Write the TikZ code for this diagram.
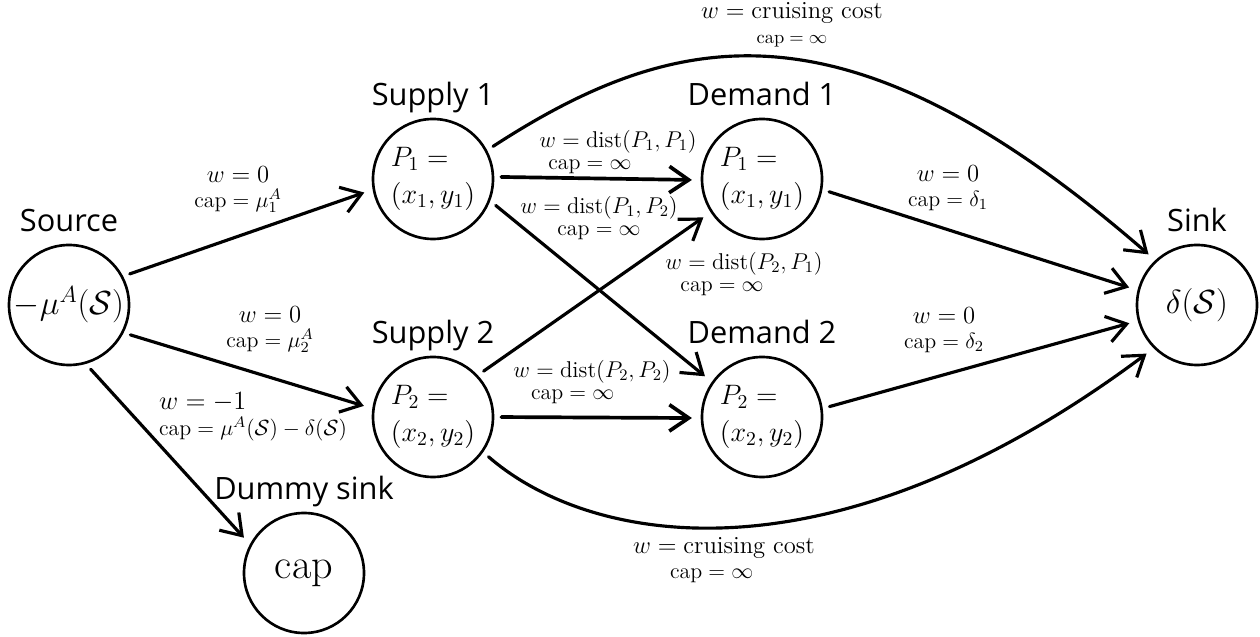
\RequirePackage{fix-cm}
\documentclass[tikz,border=0pt]{standalone}
\usepackage{amsmath,amssymb}
\usepackage{fontspec}
\usepackage{tikz}
\usetikzlibrary{arrows.meta}
\newfontfamily\lblfont{Open Sans}
\newcommand{\capsz}{\fontsize{12.5}{13}\selectfont}

\begin{document}
\begin{tikzpicture}[
  site/.style={draw, circle, line width=1.5pt, minimum size=2.4cm, inner sep=0pt, align=left, font=\fontsize{16}{21}\selectfont},
  term/.style={site, font=\fontsize{19}{21}\selectfont},
  ttl/.style={font=\lblfont\fontsize{17.5}{19}\selectfont, inner sep=0pt, text depth=0pt},
  arr/.style={-{Straight Barb[length=11pt,width=15pt]}, line width=1.8pt, line cap=round, line join=round, shorten <=4pt, shorten >=5pt},
  lbl/.style={font=\fontsize{14}{14}\selectfont, align=center, inner sep=0pt},
  dlbl/.style={lbl, font=\fontsize{13}{13}\selectfont},
  label distance=7pt]
  \useasboundingbox (0,0) rectangle (25.2,-12.74);

  \node[term, label={[ttl]above:Source}] (src) at (1.38,-6.1) {$-\mu^A(\mathcal{S})$};
  \node[site, label={[ttl]above:Supply 1}] (sup1) at (8.66,-3.58) {$P_1 =$\\$(x_1, y_1)$};
  \node[site, label={[ttl]above:Supply 2}] (sup2) at (8.66,-8.34) {$P_2 =$\\$(x_2, y_2)$};
  \node[site, label={[ttl]above:Demand 1}] (dem1) at (15.24,-3.58) {$P_1 =$\\$(x_1, y_1)$};
  \node[site, label={[ttl]above:Demand 2}] (dem2) at (15.24,-8.34) {$P_2 =$\\$(x_2, y_2)$};
  \node[term, label={[ttl]above:Sink}] (sink) at (23.94,-6.1) {$\delta(\mathcal{S})$};
  \node[term, font=\fontsize{24}{26}\selectfont, label={[ttl]above:Dummy sink}] (dummy) at (6.08,-11.46) {$\mathrm{cap}$};

  \draw[arr] (src.28) -- (sup1.190);
  \draw[arr] (src.-27) -- (sup2.172);
  \draw[arr] (src.-74) -- (dummy.152);
  \draw[arr, line width=2.1pt] (sup1.2) -- (dem1.181);
  \draw[arr] (sup1.-21) -- (dem2.145);
  \draw[arr] (sup2.43) -- (dem1.213);
  \draw[arr, line width=2.1pt] (sup2.0) -- (dem2.181);
  \draw[arr] (dem1.-10) -- (sink.166);
  \draw[arr] (dem2.8) -- (sink.195);
  \draw[arr] (sup1.28) .. controls (13.6,-0.5) and (17.0,0.1) .. (sink.133);
  \draw[arr] (sup2.-35) .. controls (11.8,-10.9) and (16.6,-11.8) .. (sink.225);

  \node[lbl] at (4.76,-3.8) {$w = 0$\\{\capsz $\mathrm{cap} = \mu_1^A$}};
  \node[lbl] at (5.4,-6.6) {$w = 0$\\{\capsz $\mathrm{cap} = \mu_2^A$}};
  \node[lbl, align=left, font=\fontsize{15}{15}\selectfont] at (5.06,-8.33) {$w = -1$\\{\capsz $\mathrm{cap} = \mu^A(\mathcal{S}) - \delta(\mathcal{S})$}};
  \node[lbl] at (15.84,-0.5) {$w = \text{cruising cost}$\\{\fontsize{10.5}{12}\selectfont $\mathrm{cap} = \infty$}};
  \node[lbl] at (14.48,-11.2) {$w = \text{cruising cost}$\\{\capsz $\mathrm{cap} = \infty$}\hspace*{14pt}};
  \node[dlbl] at (12.36,-3.04) {$w = \mathrm{dist}(P_1, P_1)$\\{\capsz $\mathrm{cap} = \infty$}\hspace*{32pt}};
  \node[dlbl] at (11.98,-4.36) {$w = \mathrm{dist}(P_1, P_2)$\\{\capsz $\mathrm{cap} = \infty$}};
  \node[dlbl] at (14.88,-5.48) {$w = \mathrm{dist}(P_2, P_1)$\\{\capsz $\mathrm{cap} = \infty$}\hspace*{25pt}};
  \node[dlbl] at (11.84,-7.64) {$w = \mathrm{dist}(P_2, P_2)$\\{\capsz $\mathrm{cap} = \infty$}\hspace*{22pt}};
  \node[lbl] at (18.96,-3.76) {$w = 0$\\{\capsz $\mathrm{cap} = \delta_1$}};
  \node[lbl] at (18.88,-6.6) {$w = 0$\\{\capsz $\mathrm{cap} = \delta_2$}};
\end{tikzpicture}
\end{document}
